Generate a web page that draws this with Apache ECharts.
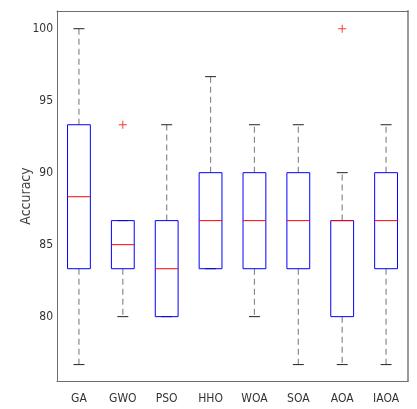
<!DOCTYPE html>
<html>
<head>
<meta charset="utf-8">
<script src="https://cdn.jsdelivr.net/npm/echarts@6/dist/echarts.min.js"></script>
<style>
html,body{margin:0;padding:0;background:#fff;}
#box{width:417px;height:409px;}
</style>
</head>
<body>
<div id="box"></div>
<script>
var names = ['GA', 'GWO', 'PSO', 'HHO', 'WOA', 'SOA', 'AOA', 'IAOA'];
// low whisker, q1, median, q3, high whisker
var lows    = [76.67, 80.00, 80.00, 83.33, 80.00, 76.67, 76.67, 76.67];
var q1s     = [83.33, 83.33, 80.00, 83.33, 83.33, 83.33, 80.00, 83.33];
var medians = [88.33, 85.00, 83.33, 86.67, 86.67, 86.67, 86.67, 86.67];
var q3s     = [93.33, 86.67, 86.67, 90.00, 90.00, 90.00, 86.67, 90.00];
var highs   = [100.00, 86.67, 93.33, 96.67, 93.33, 93.33, 90.00, 93.33];
var outlierIdx = [1, 6];
var outlierVal = [93.33, 100.00];
var yTicks = [80, 85, 90, 95, 100];

var boxData = names.map(function (n, i) {
  return [i, lows[i], q1s[i], medians[i], q3s[i], highs[i]];
});
var outData = outlierIdx.map(function (k, i) { return [k, outlierVal[i]]; });

var chart = echarts.init(document.getElementById('box'));

function renderBox(params, api) {
  var i = api.value(0);
  var band = api.size([1, 0])[0];
  var hw = band * 0.26;   // box half width
  var cw = band * 0.125;  // cap half width
  var pLow = api.coord([i, api.value(1)]);
  var pQ1 = api.coord([i, api.value(2)]);
  var pMed = api.coord([i, api.value(3)]);
  var pQ3 = api.coord([i, api.value(4)]);
  var pHigh = api.coord([i, api.value(5)]);
  var x = pQ1[0];
  var dash = {stroke: '#8a8a8a', lineWidth: 1.2, lineDash: [6, 4]};
  return {
    type: 'group',
    children: [
      {type: 'line', shape: {x1: x, y1: pQ3[1], x2: x, y2: pHigh[1]}, style: dash},
      {type: 'line', shape: {x1: x, y1: pQ1[1], x2: x, y2: pLow[1]}, style: dash},
      {type: 'line', shape: {x1: x - cw, y1: pHigh[1], x2: x + cw, y2: pHigh[1]}, style: {stroke: '#222', lineWidth: 1}},
      {type: 'line', shape: {x1: x - cw, y1: pLow[1], x2: x + cw, y2: pLow[1]}, style: {stroke: '#222', lineWidth: 1}},
      {type: 'rect', shape: {x: x - hw, y: pQ3[1], width: hw * 2, height: pQ1[1] - pQ3[1]},
        style: {fill: 'none', stroke: '#0000ff', lineWidth: 1}},
      {type: 'line', shape: {x1: x - hw, y1: pMed[1], x2: x + hw, y2: pMed[1]}, style: {stroke: '#ff0000', lineWidth: 1}}
    ]
  };
}

var axisGray = '#6e6e6e';
var fnt = "'Liberation Sans Narrow', 'DejaVu Sans Condensed', sans-serif";
var option = {
  animation: false,
  grid: {left: 57, right: 9, top: 11, bottom: 28},
  xAxis: [
    {
      type: 'category',
      data: names,
      axisLine: {lineStyle: {color: axisGray, width: 1}},
      axisTick: {inside: true, length: 4, alignWithLabel: true, lineStyle: {color: axisGray}},
      axisLabel: {color: '#333', fontSize: 12, fontFamily: fnt, margin: 12}
    },
    {
      type: 'category',
      position: 'top',
      data: names,
      axisLine: {show: true, lineStyle: {color: axisGray, width: 1}},
      axisTick: {inside: true, length: 4, alignWithLabel: true, lineStyle: {color: axisGray}},
      axisLabel: {show: false}
    }
  ],
  yAxis: [
    {
      type: 'value',
      min: 75.53,
      max: 101.23,
      name: 'Accuracy',
      nameLocation: 'middle',
      nameGap: 24,
      nameMoveOverlap: false,
      nameTextStyle: {color: '#444', fontSize: 14, fontFamily: fnt},
      splitLine: {show: false},
      axisLine: {show: true, lineStyle: {color: axisGray, width: 1}},
      axisTick: {inside: true, length: 4, customValues: yTicks, lineStyle: {color: axisGray}},
      axisLabel: {color: '#333', fontSize: 12, fontFamily: fnt, margin: 4, customValues: yTicks}
    },
    {
      type: 'value',
      position: 'right',
      min: 75.53,
      max: 101.23,
      splitLine: {show: false},
      axisLine: {show: true, lineStyle: {color: '#9a9a9a', width: 2}},
      axisTick: {inside: true, length: 4, customValues: yTicks, lineStyle: {color: axisGray}},
      axisLabel: {show: false}
    }
  ],
  series: [
    {
      type: 'custom',
      renderItem: renderBox,
      encode: {x: 0, y: [1, 2, 3, 4, 5]},
      data: boxData,
      z: 3
    },
    {
      type: 'scatter',
      data: outData,
      symbol: 'path://M4.4,0h1.2v10h-1.2zM0,4.4h10v1.2h-10z',
      symbolSize: 8,
      itemStyle: {color: '#ff0000'},
      z: 4
    }
  ]
};
chart.setOption(option);
</script>
</body>
</html>
